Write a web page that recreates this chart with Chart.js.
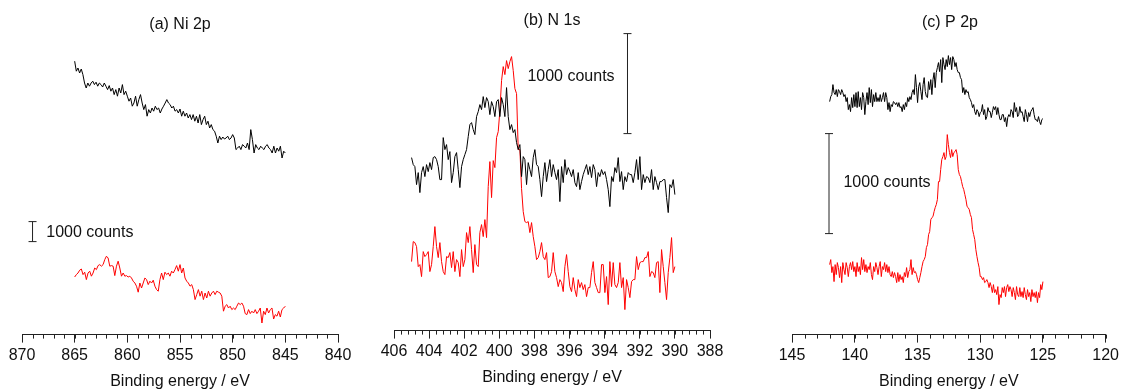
<!DOCTYPE html>
<html>
<head>
<meta charset="utf-8">
<title>XPS spectra</title>
<script src="https://cdn.jsdelivr.net/npm/chart.js@4.4.0/dist/chart.umd.min.js"></script>
<style>
  html, body { margin: 0; padding: 0; background: #fff; overflow: hidden; }
  #wrap { position: relative; width: 1123px; height: 390px; overflow: hidden; }
  canvas { position: absolute; }
  #chartA { left: 2px; top: 0px; }
  #chartB { left: 374px; top: -4px; }
  #chartC { left: 772px; top: 0px; }
</style>
</head>
<body>
<div id="wrap">
  <canvas id="chartA" width="356" height="391"></canvas>
  <canvas id="chartB" width="356" height="391"></canvas>
  <canvas id="chartC" width="350" height="391"></canvas>
</div>
<script>
// binding energy range of each scan (start, end), eV
const niRange = [865, 845];
const nRange = [405, 390];
const pRange = [142, 125];

// (a) Ni 2p, counts
const niBlack = [
  13670, 13170, 13330, 13080, 13280, 13000, 12580, 12330, 12580, 12420,
  12580, 12670, 12500, 12620, 12420, 12580, 12500, 12380, 12580, 12420,
  12250, 12450, 12170, 12330, 12000, 12250, 11920, 12330, 12080, 12500,
  12000, 12170, 11920, 11670, 11830, 11420, 11580, 11920, 11420, 11750,
  12000, 11580, 11250, 11500, 10920, 11250, 11080, 11330, 11170, 11420,
  11250, 11330, 11080, 11280, 11420, 11580, 11750, 11580, 11500, 11330,
  11420, 11170, 11250, 11080, 11280, 10920, 11170, 10920, 11080, 10830,
  11000, 10750, 11000, 10670, 10920, 10580, 11000, 10500, 10750, 10920,
  10500, 10670, 10330, 10500, 10250, 10170, 9920, 9580, 9920, 9750,
  9880, 9780, 9830, 9920, 9750, 9830, 10000, 9830, 9250, 9330,
  9420, 9250, 9500, 9420, 9330, 9580, 9250, 10250, 9750, 9080,
  9500, 9330, 9250, 9420, 9330, 9250, 9420, 9500, 9330, 9250,
  9080, 9420, 9080, 9330, 9170, 9420, 8830, 9170, 9080
];
const niRed = [
  2880, 3000, 3080, 3220, 3280, 3000, 3120, 2750, 3080, 3170,
  2920, 3080, 3330, 3250, 3450, 3500, 3420, 3500, 3750, 3920,
  3830, 3420, 3450, 3420, 2950, 3420, 3670, 3330, 2920, 3080,
  2920, 2950, 2880, 2920, 2830, 2670, 2580, 2420, 2120, 2580,
  2330, 2580, 2830, 2750, 2500, 2670, 2580, 2720, 2420, 2250,
  2170, 2750, 3080, 2750, 3120, 3000, 3080, 2920, 3170, 3080,
  3250, 3450, 3170, 3500, 3080, 3330, 2830, 2670, 2580, 2420,
  2500, 2250, 1750, 2000, 2250, 1920, 2170, 1750, 2080, 1830,
  2170, 1920, 2080, 2170, 2000, 2170, 2120, 2080, 1920, 1170,
  1420, 1500, 1330, 1420, 1250, 1330, 1250, 1420, 1580, 1500,
  1580, 1420, 1050, 1000, 1250, 1050, 1170, 1080, 1250, 1050,
  1170, 1330, 580, 1170, 1000, 1330, 1080, 1250, 1330, 780,
  1000, 920, 1170, 880, 1250, 1330, 1420
];

// (b) N 1s, counts
const nBlack = [
  1730, 1660, 1640, 1460, 1580, 1380, 1580, 1640, 1540, 1660,
  1590, 1680, 1610, 1730, 1740, 1710, 1640, 1510, 1510, 1930,
  1810, 1860, 1710, 1790, 1480, 1580, 1740, 1780, 1610, 1430,
  1640, 1710, 1760, 1810, 1940, 2060, 2080, 2010, 1960, 2140,
  2190, 2260, 2210, 2340, 2230, 2330, 2290, 2160, 2290, 2240,
  2140, 2290, 2310, 2140, 2330, 2260, 2140, 2430, 2140, 2010,
  2060, 1980, 2010, 1880, 1810, 1860, 1540, 1740, 1710, 1460,
  1680, 1610, 1540, 1730, 1810, 1660, 1640, 1510, 1340, 1540,
  1680, 1490, 1610, 1710, 1540, 1660, 1580, 1510, 1610, 1290,
  1640, 1480, 1710, 1560, 1630, 1590, 1540, 1610, 1480, 1440,
  1580, 1410, 1490, 1560, 1610, 1660, 1560, 1640, 1530, 1660,
  1610, 1440, 1580, 1540, 1610, 1560, 1590, 1510, 1410, 1240,
  1540, 1490, 1630, 1580, 1730, 1490, 1590, 1410, 1540, 1490,
  1580, 1560, 1560, 1480, 1580, 1710, 1510, 1740, 1410, 1560,
  1480, 1540, 1530, 1480, 1610, 1410, 1540, 1480, 1410, 1490,
  1490, 1510, 1510, 1330, 1180, 1460, 1430, 1510, 1360
];
const nRed = [
  690, 890, 880, 840, 640, 660, 540, 790, 740, 760,
  790, 590, 660, 840, 1040, 840, 730, 880, 690, 590,
  560, 740, 730, 780, 630, 790, 590, 710, 680, 540,
  810, 640, 710, 980, 880, 1040, 810, 580, 860, 660,
  640, 980, 1060, 940, 1110, 930, 1440, 1690, 1330, 1700,
  1630, 1930, 1990, 2200, 2500, 2640, 2560, 2700, 2620, 2690,
  2740, 2600, 2420, 2370, 1810, 1810, 1420, 1190, 1090, 1080,
  1090, 980, 1080, 940, 840, 710, 730, 790, 880, 740,
  710, 780, 530, 540, 590, 780, 590, 530, 440, 510,
  480, 390, 640, 760, 590, 440, 390, 530, 410, 340,
  510, 430, 480, 410, 460, 340, 430, 430, 580, 690,
  480, 430, 380, 380, 660, 660, 380, 540, 260, 690,
  440, 680, 460, 430, 480, 680, 430, 530, 210, 510,
  430, 330, 490, 510, 510, 740, 610, 680, 690, 690,
  730, 730, 790, 540, 590, 580, 530, 680, 690, 380,
  810, 640, 480, 310, 580, 730, 930, 580, 640
];

// (c) P 2p, counts
const pBlack = [
  2330, 2380, 2400, 2500, 2420, 2400, 2450, 2380, 2450, 2430, 2400, 2450, 2420, 2380, 2400,
  2330, 2370, 2250, 2300, 2230, 2370, 2270, 2400, 2280, 2420, 2270, 2430, 2280, 2370, 2250,
  2420, 2370, 2200, 2330, 2420, 2300, 2470, 2320, 2450, 2280, 2400, 2330, 2420, 2330, 2370,
  2330, 2400, 2330, 2370, 2420, 2330, 2420, 2370, 2250, 2320, 2230, 2300, 2280, 2330, 2320,
  2300, 2320, 2280, 2320, 2270, 2280, 2230, 2300, 2250, 2320, 2280, 2370, 2330, 2380, 2350,
  2420, 2450, 2400, 2600, 2470, 2320, 2480, 2520, 2430, 2350, 2500, 2570, 2430, 2380, 2370,
  2530, 2450, 2550, 2400, 2550, 2620, 2470, 2620, 2670, 2720, 2630, 2750, 2520, 2770, 2700,
  2650, 2750, 2680, 2790, 2700, 2770, 2650, 2780, 2750, 2680, 2720, 2650, 2620, 2620, 2570,
  2550, 2420, 2470, 2400, 2450, 2420, 2430, 2370, 2350, 2320, 2270, 2300, 2230, 2200, 2250,
  2230, 2180, 2220, 2230, 2300, 2200, 2250, 2150, 2180, 2270, 2230, 2230, 2170, 2220, 2280,
  2250, 2280, 2200, 2270, 2200, 2150, 2150, 2200, 2200, 2130, 2170, 2080, 2170, 2200, 2180,
  2250, 2230, 2170, 2320, 2230, 2270, 2180, 2200, 2280, 2220, 2230, 2180, 2130, 2250, 2200,
  2130, 2220, 2180, 2230, 2250, 2270, 2200, 2150, 2150, 2130, 2180, 2130, 2100, 2150, 2160
];
const pRed = [
  700, 750, 620, 680, 530, 700, 600, 720, 670, 570, 680, 520, 720, 650, 600,
  720, 670, 580, 680, 720, 650, 730, 630, 680, 580, 720, 630, 680, 600, 770,
  650, 750, 630, 700, 620, 680, 650, 720, 600, 550, 680, 630, 720, 670, 600,
  680, 730, 580, 680, 650, 720, 630, 700, 620, 680, 600, 580, 630, 570, 620,
  580, 520, 620, 530, 600, 550, 580, 520, 620, 580, 670, 570, 630, 650, 750,
  600, 670, 620, 630, 600, 550, 520, 570, 620, 680, 730, 750, 780, 870, 900,
  1000, 1030, 1150, 1170, 1180, 1230, 1270, 1300, 1350, 1530, 1530, 1650, 1750, 1780, 1820,
  1750, 1780, 2000, 1900, 1820, 1770, 1850, 1780, 1820, 1830, 1850, 1800, 1650, 1600, 1580,
  1530, 1480, 1450, 1400, 1350, 1280, 1270, 1250, 1200, 1170, 1050, 1000, 950, 850, 780,
  720, 670, 580, 580, 550, 570, 520, 530, 550, 520, 470, 520, 480, 420, 500,
  420, 450, 400, 480, 300, 400, 370, 470, 420, 480, 380, 470, 500, 430, 480,
  450, 380, 470, 420, 350, 480, 400, 380, 470, 380, 430, 370, 470, 400, 350,
  450, 380, 420, 330, 450, 380, 420, 370, 430, 320, 420, 370, 500, 450, 530
];

// scale bars: [energy, lower count]; each bar is 1000 counts tall
const niBar = [869.0, 4650];
const nBar = [392.7, 1970];
const pBar = [142.05, 1010];

Chart.defaults.font.family = '"Liberation Sans", Arial, sans-serif';
Chart.defaults.font.size = 16;
Chart.defaults.color = '#111';

// evenly spaced scan from start to end energy
function spectrum(range, values) {
    const n = values.length;
    return values.map((v, i) => ({ x: range[0] + (range[1] - range[0]) * i / (n - 1), y: v }));
}

// short minor ticks between the labelled ones
const minorTicks = {
    id: 'minorTicks',
    afterDraw(chart, args, opts) {
        const sc = chart.scales.x;
        const ctx = chart.ctx;
        const n = Math.round((sc.max - sc.min) / opts.step);
        ctx.save();
        ctx.strokeStyle = '#222';
        ctx.lineWidth = 1;
        ctx.beginPath();
        for (let i = 0; i <= n; i++) {
            const px = Math.round(sc.getPixelForValue(sc.min + i * opts.step)) + 0.5;
            ctx.moveTo(px, sc.top);
            ctx.lineTo(px, sc.top + 4);
        }
        ctx.stroke();
        ctx.restore();
    }
};

// "1000 counts" next to the scale bar
const countsLabel = {
    id: 'countsLabel',
    afterDatasetsDraw(chart, args, opts) {
        const ctx = chart.ctx;
        ctx.save();
        ctx.font = '16px "Liberation Sans", Arial, sans-serif';
        ctx.fillStyle = '#111';
        ctx.textAlign = 'left';
        ctx.textBaseline = 'middle';
        ctx.fillText(opts.text, chart.scales.x.getPixelForValue(opts.at[0]), chart.scales.y.getPixelForValue(opts.at[1]));
        ctx.restore();
    }
};

function createPanel(id, p) {
    return new Chart(document.getElementById(id), {
        type: 'line',
        data: {
            datasets: [
                { data: spectrum(p.range, p.black), borderColor: '#000', borderWidth: 1, pointRadius: 0, tension: 0 },
                { data: spectrum(p.range, p.red), borderColor: '#ff0000', borderWidth: 1, pointRadius: 0, tension: 0 },
                {
                    data: [{ x: p.bar[0], y: p.bar[1] }, { x: p.bar[0], y: p.bar[1] + 1000 }],
                    borderColor: '#222', borderWidth: 1,
                    pointStyle: 'line', pointRadius: 4, pointBorderColor: '#222', pointBorderWidth: 1
                }
            ]
        },
        options: {
            responsive: false,
            animation: false,
            events: [],
            clip: false,
            layout: { padding: { left: 20, right: p.padRight, top: 0, bottom: 0 } },
            plugins: {
                legend: { display: false },
                tooltip: { enabled: false },
                title: {
                    display: true,
                    text: p.title,
                    color: '#111',
                    font: { size: 16, weight: 'normal' },
                    padding: { top: p.titleTop, bottom: 0 }
                },
                minorTicks: { step: p.minor },
                countsLabel: { text: '1000 counts', at: p.labelAt }
            },
            scales: {
                x: {
                    type: 'linear',
                    reverse: true,
                    min: p.min,
                    max: p.max,
                    ticks: { stepSize: p.step, padding: 3, color: '#111' },
                    grid: { drawOnChartArea: false, tickLength: 8, color: '#222' },
                    border: { color: '#222' },
                    title: { display: true, text: 'Binding energy / eV', color: '#111', padding: { top: 4, bottom: 0 } }
                },
                y: { display: false, min: 0, max: p.ymax }
            }
        },
        plugins: [minorTicks, countsLabel]
    });
}

createPanel('chartA', {
    title: '(a) Ni 2p', titleTop: 15, range: niRange, black: niBlack, red: niRed, bar: niBar,
    labelAt: [867.7, 5080], min: 840, max: 870, step: 5, minor: 1, ymax: 15020, padRight: 20
});
createPanel('chartB', {
    title: '(b) N 1s', titleTop: 15, range: nRange, black: nBlack, red: nRed, bar: nBar,
    labelAt: [398.4, 2540], min: 388, max: 406, step: 2, minor: 0.4, ymax: 3004, padRight: 20
});
createPanel('chartC', {
    title: '(c) P 2p', titleTop: 13, range: pRange, black: pBlack, red: pRed, bar: pBar,
    labelAt: [140.9, 1520], min: 120, max: 145, step: 5, minor: 1, ymax: 3024, padRight: 14
});
</script>
</body>
</html>
